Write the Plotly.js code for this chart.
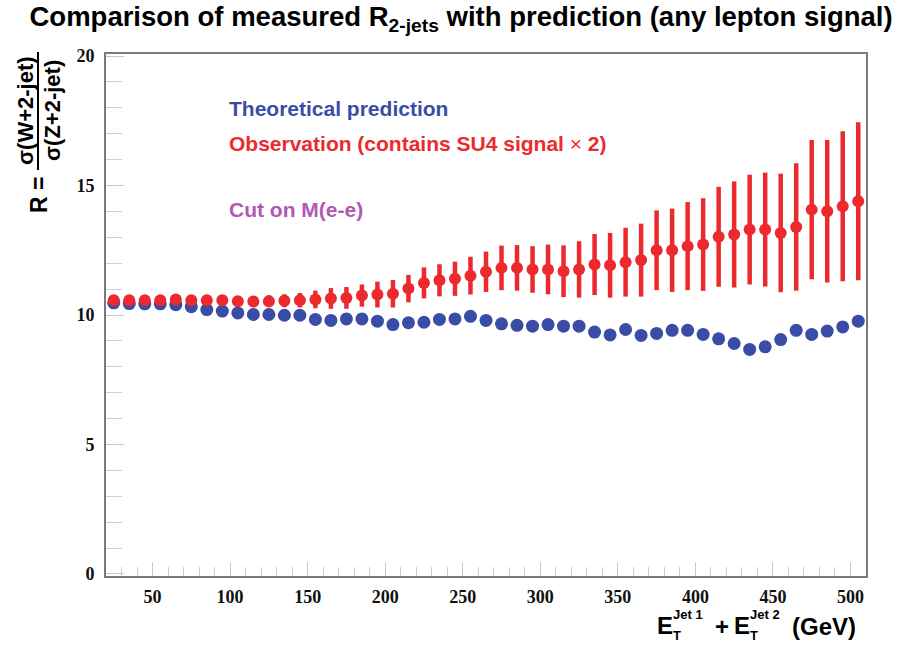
<!DOCTYPE html>
<html>
<head>
<meta charset="utf-8">
<script src="https://cdn.plot.ly/plotly-3.0.1.min.js"></script>
<style>html,body{margin:0;padding:0;background:#fff;}#chart{width:913px;height:648px;}</style>
</head>
<body>
<div id="chart"></div>
<script>
var energyBins = [25,35,45,55,65,75,85,95,105,115,125,135,145,155,165,175,185,195,205,215,225,235,245,255,265,275,285,295,305,315,325,335,345,355,365,375,385,395,405,415,425,435,445,455,465,475,485,495,505];
var theoryR = [10.47,10.44,10.43,10.43,10.40,10.32,10.21,10.15,10.08,10.02,10.02,9.99,9.99,9.83,9.79,9.85,9.85,9.76,9.63,9.70,9.72,9.83,9.85,9.95,9.79,9.66,9.60,9.57,9.63,9.57,9.57,9.34,9.23,9.44,9.21,9.29,9.41,9.41,9.25,9.08,8.90,8.67,8.77,9.05,9.41,9.25,9.38,9.54,9.76];
var observedR = [10.57,10.57,10.57,10.57,10.60,10.57,10.57,10.57,10.53,10.52,10.53,10.55,10.57,10.60,10.64,10.66,10.75,10.79,10.82,11.02,11.24,11.34,11.40,11.52,11.67,11.82,11.82,11.76,11.76,11.69,11.76,11.95,11.92,12.04,12.12,12.50,12.50,12.66,12.72,13.02,13.11,13.30,13.30,13.17,13.40,14.07,14.01,14.20,14.39];
var observedErr = [0.12,0.13,0.14,0.15,0.16,0.17,0.18,0.19,0.20,0.21,0.23,0.25,0.28,0.34,0.40,0.42,0.43,0.50,0.53,0.53,0.60,0.62,0.66,0.73,0.78,0.86,0.88,0.90,0.96,1.00,1.09,1.18,1.25,1.33,1.41,1.54,1.61,1.70,1.79,1.93,2.05,2.12,2.20,2.29,2.46,2.69,2.75,2.90,3.05];
var xTickVals = [50,100,150,200,250,300,350,400,450,500];
var yTickVals = [0,5,10,15,20];

var BLUE = '#3a4da6', RED = '#ec2a2e', PURPLE = '#b457b4';
var W = 913, H = 648, ML = 106, MR = 47, MT = 54, MB = 72;
var PW = W - ML - MR, PH = H - MT - MB;
function px(x){ return (x - ML) / PW; }
function py(y){ return (H - MB - y) / PH; }

var traces = [
  {x: energyBins, y: theoryR, type: 'scatter', mode: 'markers',
   marker: {color: BLUE, size: 13, line: {width: 0}}, hoverinfo: 'x+y'},
  {x: energyBins, y: observedR, type: 'scatter', mode: 'markers',
   marker: {color: RED, size: 12, line: {width: 0}},
   error_y: {type: 'data', array: observedErr, visible: true, color: RED, thickness: 4.5, width: 0}}
];

var SANS = 'Liberation Sans, Arial, sans-serif';
var SERIF = 'Liberation Serif, Times New Roman, serif';
function ann(text, x, y, opts){
  var a = {text: text, x: px(x), y: py(y), xref: 'paper', yref: 'paper', showarrow: false,
           xanchor: 'left', yanchor: 'middle', font: {family: SANS, size: 17, color: '#000', weight: 'bold'}};
  for (var k in opts) a[k] = opts[k];
  return a;
}
function f(size, color){ return {family: SANS, size: size, color: color || '#000', weight: 'bold'}; }

var annotations = [
  ann('Theoretical prediction', 227, 108, {font: f(21, BLUE)}),
  ann('Observation (contains SU4 signal <span style="font-weight:normal">×</span> 2)', 227, 143, {font: f(21, RED)}),
  ann('Cut on M(e-e)', 227, 210, {font: f(21, PURPLE)}),
  // y axis title as a fraction
  ann('σ(W+2-jet)', 25, 111, {xanchor: 'center', textangle: -90, font: f(22)}),
  ann('σ(Z+2-jet)', 52, 111, {xanchor: 'center', textangle: -90, font: f(22)}),
  ann('R =', 39, 195, {xanchor: 'center', textangle: -90, font: f(23)}),
  // x axis title
  ann('E', 655, 625, {font: f(24)}),
  ann('Jet 1', 671, 614, {font: f(13)}),
  ann('T', 671, 635, {font: f(13)}),
  ann('+', 722, 626, {xanchor: 'center', font: f(24)}),
  ann('E', 732, 625, {font: f(24)}),
  ann('Jet 2', 748, 614, {font: f(13)}),
  ann('T', 748, 635, {font: f(13)}),
  ann('(GeV)', 790, 626, {font: f(24)})
];

var layout = {
  width: W, height: H,
  margin: {l: ML, r: MR, t: MT, b: MB, pad: 0},
  paper_bgcolor: '#fff', plot_bgcolor: '#fff',
  showlegend: false,
  title: {text: 'Comparison of measured R<sub>2-jets</sub> with prediction (any lepton signal)',
          font: {family: SANS, size: 27.5, color: '#000', weight: 'bold'},
          x: 0.505, xref: 'container', xanchor: 'center', y: 1 - 7/648, yref: 'container', yanchor: 'top'},
  xaxis: {range: [20, 510], showgrid: false, zeroline: false,
          showline: true, mirror: true, linecolor: '#7a7a7a', linewidth: 2,
          tickvals: xTickVals, ticks: 'inside', ticklen: 14, tickcolor: '#c8c8c8', tickwidth: 1,
          minor: {dtick: 10, tick0: 0, ticks: 'inside', ticklen: 9, tickcolor: '#d0d0d0', tickwidth: 1, showgrid: false},
          tickfont: {family: SERIF, size: 18, color: '#111', weight: 'bold'}, ticklabelstandoff: 3},
  yaxis: {range: [-0.08, 20.08], showgrid: false, zeroline: false,
          showline: true, mirror: true, linecolor: '#7a7a7a', linewidth: 2,
          tickvals: yTickVals, ticks: 'inside', ticklen: 18, tickcolor: '#c8c8c8', tickwidth: 1,
          minor: {dtick: 1, tick0: 0, ticks: 'inside', ticklen: 16, tickcolor: '#d0d0d0', tickwidth: 1, showgrid: false},
          tickfont: {family: SERIF, size: 18, color: '#111', weight: 'bold'}, ticklabelstandoff: 6},
  annotations: annotations,
  shapes: [
    {type: 'line', xref: 'paper', yref: 'paper', x0: px(38), x1: px(38), y0: py(52), y1: py(170),
     line: {color: '#000', width: 2}}
  ]
};

Plotly.newPlot('chart', traces, layout, {displayModeBar: false, staticPlot: true});
</script>
</body>
</html>
